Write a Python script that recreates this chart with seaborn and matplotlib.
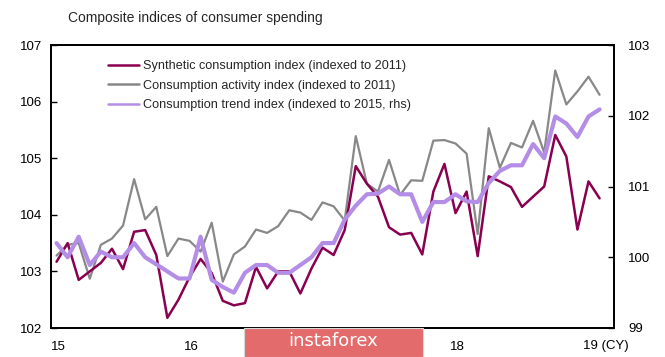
import matplotlib
matplotlib.use('Agg')
import matplotlib.pyplot as plt
from matplotlib.lines import Line2D
from matplotlib.patches import Rectangle
import numpy as np
import pandas as pd
import seaborn as sns

# monthly, Jan 2015 .. Feb 2019
months = pd.date_range('2015-01', periods=50, freq='MS')

synthetic = [103.17, 103.5, 102.85, 103.0, 103.15, 103.4, 103.04, 103.7, 103.73, 103.29,
             102.18, 102.5, 102.9, 103.22, 102.97, 102.48, 102.4, 102.44, 103.08, 102.7,
             103.0, 103.0, 102.61, 103.05, 103.42, 103.29, 103.73, 104.86, 104.55, 104.32,
             103.78, 103.65, 103.68, 103.3, 104.41, 104.9, 104.03, 104.41, 103.27, 104.68,
             104.59, 104.49, 104.14, 104.32, 104.5, 105.41, 105.03, 103.74, 104.59, 104.29]

activity = [103.28, 103.47, 103.5, 102.87, 103.47, 103.58, 103.81, 104.63, 103.92, 104.14,
            103.27, 103.58, 103.54, 103.35, 103.86, 102.82, 103.3, 103.44, 103.74, 103.68,
            103.8, 104.08, 104.04, 103.91, 104.22, 104.15, 103.9, 105.39, 104.55, 104.41,
            104.97, 104.35, 104.61, 104.6, 105.31, 105.32, 105.26, 105.08, 103.66, 105.53,
            104.83, 105.27, 105.19, 105.66, 105.1, 106.55, 105.95, 106.18, 106.44, 106.12]

trend = [100.2, 100.0, 100.29, 99.89, 100.08, 100.0, 100.0, 100.2, 100.0, 99.9,
         99.8, 99.7, 99.7, 100.29, 99.68, 99.58, 99.5, 99.78, 99.89, 99.89,
         99.78, 99.78, 99.89, 100.0, 100.2, 100.2, 100.53, 100.73, 100.89, 100.9,
         101.0, 100.89, 100.89, 100.5, 100.78, 100.78, 100.89, 100.79, 100.78, 101.05,
         101.22, 101.3, 101.3, 101.6, 101.4, 101.99, 101.89, 101.7, 101.99, 102.09]

year_labels = ['15', '16', '17', '18', '19 (CY)']
names = ['Synthetic consumption index (indexed to 2011)',
         'Consumption activity index (indexed to 2011)',
         'Consumption trend index (indexed to 2015, rhs)']
colors = ['#8a0050', '#888888', '#b48ee6']

sns.set_style('white')
plt.rcParams['font.family'] = ['Liberation Sans', 'DejaVu Sans']

df = pd.DataFrame({'i': np.arange(len(months)), 'synthetic': synthetic,
                   'activity': activity, 'trend': trend})

fig = plt.figure(figsize=(6.65, 3.57), dpi=100)
ax = fig.add_axes([51/665, 1 - 328/357, (614 - 51)/665, (328 - 45)/357])
ax2 = ax.twinx()

sns.lineplot(data=df, x='i', y='activity', ax=ax, color=colors[1], lw=1.6)
sns.lineplot(data=df, x='i', y='synthetic', ax=ax, color=colors[0], lw=1.8)
sns.lineplot(data=df, x='i', y='trend', ax=ax2, color=colors[2], lw=3.0)

ax.set_xlim(-0.5, 50.3)
ax.set_ylim(102, 107)
ax2.set_ylim(99, 103)
ax.set_yticks([102, 103, 104, 105, 106, 107])
ax2.set_yticks([99, 100, 101, 102, 103])
ax.set_xticks([-0.5, 11.5, 23.5, 35.5, 47.5])
ax.set_xticklabels(year_labels, ha='left')
# "17" sits under the watermark strip in the original
ax.get_xticklabels()[2].set_visible(False)
for a in (ax, ax2):
    a.set_xlabel('')
    a.set_ylabel('')
    for s in a.spines.values():
        s.set_color('black')
        s.set_linewidth(1.3)
ax.tick_params(axis='both', direction='in', length=4, width=1, labelsize=9.5,
               colors='black', pad=6)
ax.tick_params(axis='x', pad=9)
ax2.tick_params(axis='y', direction='in', length=4, width=1, labelsize=9.5,
                colors='black', pad=10)

handles = [Line2D([], [], color=c, lw=1.8) for c in colors]
ax.legend(handles, names, loc='upper left', bbox_to_anchor=(0.092, 0.965),
          frameon=False, fontsize=9.1, handlelength=2.5, handletextpad=0.25,
          labelspacing=0.6, borderaxespad=0)

fig.text(68/665, 1 - 18/357, 'Composite indices of consumer spending',
         fontsize=10, va='center', ha='left')

# watermark strip
fig.patches.append(Rectangle((244/665, 0), (423 - 244)/665, 29/357,
                             transform=fig.transFigure, facecolor='#e36b6b',
                             edgecolor='#d9d9d9', lw=0.8, zorder=10))
fig.text(333/665, 1 - 341/357, 'instaforex', color='white', fontsize=13,
         ha='center', va='center', zorder=11, family='DejaVu Sans')

fig.savefig('out.png', dpi=100)
